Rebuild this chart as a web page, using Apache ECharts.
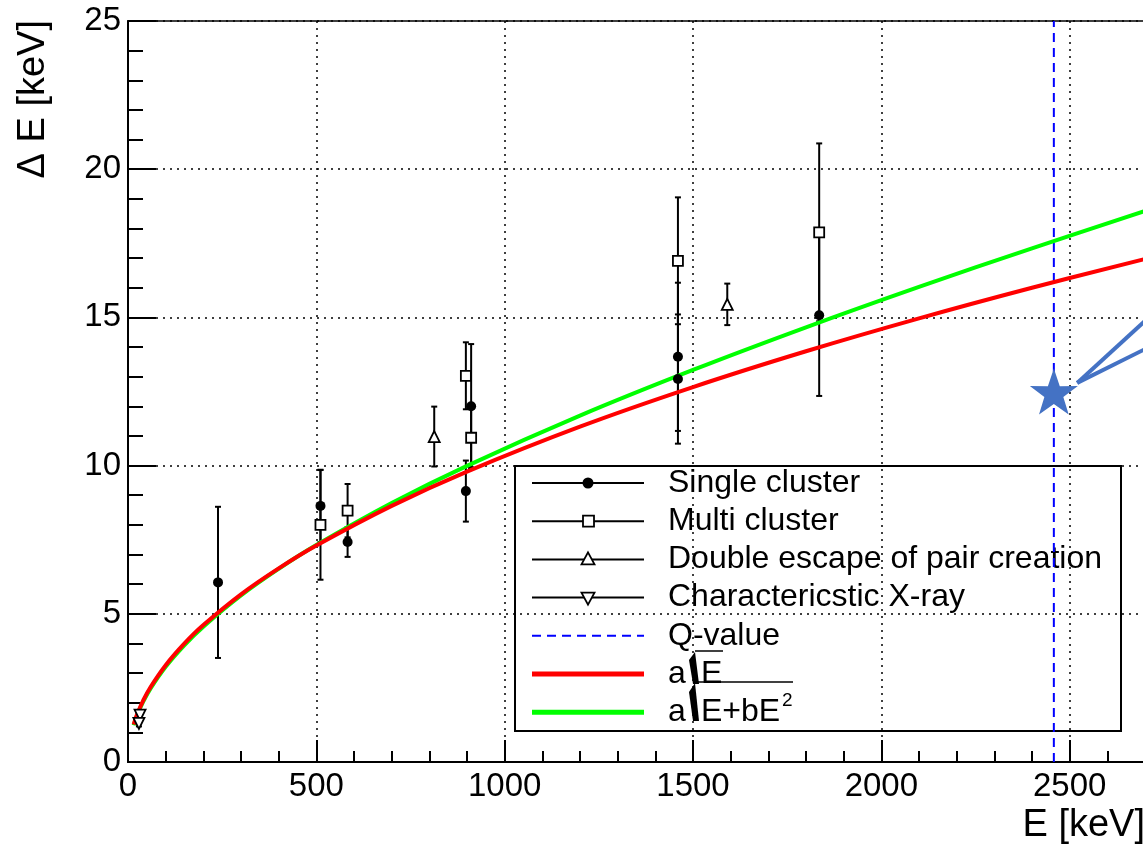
<!DOCTYPE html>
<html><head><meta charset="utf-8">
<script src="https://cdn.jsdelivr.net/npm/echarts@6/dist/echarts.min.js"></script>
<style>html,body{margin:0;padding:0;background:#fff;overflow:hidden}#c{width:1143px;height:845px}</style>
</head><body><div id="c"></div>
<script>
// [E (keV), dE (keV), error]
const singleCluster = [[239,6.06,2.55],[511,8.64,1.22],[583,7.42,0.5],[897,9.14,1.03],[911,12.0,2.1],[1460,13.67,2.5],[1460,12.92,2.18],[1835,15.07,2.72]];
const multiCluster = [[511,8.0,1.85],[583,8.48,0.9],[897,13.03,1.13],[911,10.94,1.0],[1460,16.91,2.14],[1835,17.87,3.0]];
const doubleEscape = [[813,10.98,1.01],[1591,15.44,0.7]];
const xray = [[32,1.58,0.1],[29,1.30,0.1]];
const fitE     = [15,25,40,60,100,150,200,300,400,500,700,900,1200,1500,1800,2100,2400,2700];
const fitSqrt  = [1.265,1.633,2.066,2.530,3.266,4.000,4.619,5.657,6.532,7.303,8.641,9.798,11.314,12.649,13.857,14.967,16.000,16.971];
const fitSqrt2 = [1.240,1.602,2.028,2.486,3.215,3.946,4.567,5.619,6.517,7.319,8.737,9.992,11.685,13.226,14.664,16.027,17.331,18.590];
const qValue = 2458;
const starPoint = [2458, 12.5];
const calloutStart = [2520, 12.79];
const calloutEnds = [[2700, 14.88], [2700, 13.93]];
const xTicks = [0,500,1000,1500,2000,2500];
const yTicks = [0,5,10,15,20,25];
const legendLabels = ['Single cluster','Multi cluster','Double escape of pair creation','Characteric' + 'stic X-ray','Q-value'];
const fitLabelA = ['a', 'E'];
const fitLabelB = ['a', 'E+bE', '2'];

const FONT = '"Liberation Sans", Arial, Helvetica, sans-serif';
const chart = echarts.init(document.getElementById('c'), null, {renderer:'canvas'});

function errSeries(data){
  return {
    type:'custom', z:3, clip:false,
    data: data.map(d=>[d[0],d[1],d[1]-d[2],d[1]+d[2]]),
    renderItem(params, api){
      const x = api.value(0);
      const p1 = api.coord([x, api.value(2)]);
      const p2 = api.coord([x, api.value(3)]);
      const st = {stroke:'#000', lineWidth:2};
      const c = 3;
      return {type:'group', children:[
        {type:'line', shape:{x1:p1[0],y1:p1[1],x2:p2[0],y2:p2[1]}, style:st},
        {type:'line', shape:{x1:p1[0]-c,y1:p1[1],x2:p1[0]+c,y2:p1[1]}, style:st},
        {type:'line', shape:{x1:p2[0]-c,y1:p2[1],x2:p2[0]+c,y2:p2[1]}, style:st}
      ]};
    }
  };
}
function markSeries(data, symbol, size, fill, rot){
  return {type:'scatter', z:5, symbol, symbolSize:size, symbolRotate:rot||0,
    data:data.map(d=>[d[0],d[1]]),
    itemStyle:{color:fill, borderColor:'#000', borderWidth:fill==='#000'?0:1.8, opacity:1}};
}
const starPath = 'path://M50,0 L61.8,35.1 L97.6,34.5 L68.8,56 L79.4,90.5 L50,70 L20.6,90.5 L31.2,56 L2.4,34.5 L38.2,35.1 Z';

// legend graphic
const LX = 515, LY = 466, LW = 606, LH = 265, rowH = 38.2, row0 = 483;
const lg = [{type:'rect', shape:{x:LX,y:LY,width:LW,height:LH}, style:{fill:'#fff', stroke:'#000', lineWidth:2}}];
const sym = ['circle','square','tri','tridown','q','red','green'];
const txt = (x,y,s,size)=>({type:'text', x, y, style:{text:s, font:size+'px '+FONT, fill:'#000', textVerticalAlign:'middle', textAlign:'left'}});
sym.forEach((s,i)=>{
  const y = row0 + i*rowH;
  if (s==='q') lg.push({type:'line', shape:{x1:532,y1:y,x2:644,y2:y}, style:{stroke:'#0000ff', lineWidth:2, lineDash:[9,6]}});
  else if (s==='red') lg.push({type:'line', shape:{x1:532,y1:y,x2:644,y2:y}, style:{stroke:'#ff0000', lineWidth:5}});
  else if (s==='green') lg.push({type:'line', shape:{x1:532,y1:y,x2:644,y2:y}, style:{stroke:'#00ff00', lineWidth:5}});
  else {
    lg.push({type:'line', shape:{x1:532,y1:y,x2:644,y2:y}, style:{stroke:'#000', lineWidth:2}});
    if (s==='circle') lg.push({type:'circle', shape:{cx:588,cy:y,r:5.5}, style:{fill:'#000'}});
    if (s==='square') lg.push({type:'rect', shape:{x:583,y:y-5.5,width:11,height:11}, style:{fill:'#fff',stroke:'#000',lineWidth:1.8}});
    if (s==='tri') lg.push({type:'polygon', shape:{points:[[588,y-7],[594.5,y+5],[581.5,y+5]]}, style:{fill:'#fff',stroke:'#000',lineWidth:1.8}});
    if (s==='tridown') lg.push({type:'polygon', shape:{points:[[588,y+7],[594.5,y-5],[581.5,y-5]]}, style:{fill:'#fff',stroke:'#000',lineWidth:1.8}});
  }
  if (i < legendLabels.length) lg.push(txt(668, y, legendLabels[i], 32));
});
// formula rows: a sqrt(E) and a sqrt(E + bE^2)
const yA = row0 + 5*rowH, yB = row0 + 6*rowH;
lg.push(txt(668, yA, fitLabelA[0], 32), txt(701, yA, fitLabelA[1], 32));
lg.push(txt(668, yB, fitLabelB[0], 32), txt(701, yB, fitLabelB[1], 32), txt(782, yB-11, fitLabelB[2], 19));
// radical signs (ROOT style, with its misplaced overline)
lg.push({type:'polygon', shape:{points:[[689,660],[695,652],[699,684],[693,684]]}, style:{fill:'#000'}});
lg.push({type:'line', shape:{x1:695,y1:651,x2:723,y2:651}, style:{stroke:'#000', lineWidth:1.5}});
lg.push({type:'polygon', shape:{points:[[689,692],[695,683],[699,721],[693,721]]}, style:{fill:'#000'}});
lg.push({type:'line', shape:{x1:695,y1:682,x2:793,y2:682}, style:{stroke:'#000', lineWidth:1.5}});

const option = {
  animation:false,
  backgroundColor:'#fff',
  grid:{left:128, top:21, width:1017, height:741, show:true, borderColor:'#000', borderWidth:1.5, containLabel:false, outerBoundsMode:'none'},
  xAxis:[{
    type:'value', min:0, max:2700, interval:500,
    axisLine:{show:true, onZero:false, lineStyle:{color:'#000', width:2}},
    axisTick:{show:true, inside:true, length:22, lineStyle:{color:'#000', width:2}},
    axisLabel:{color:'#000', fontSize:33, fontFamily:FONT, margin:8,
      formatter:v=> xTicks.includes(v)? String(v):''},
    splitLine:{show:true, lineStyle:{color:'#000', type:[2,5], width:1.5}}
  },{
    type:'value', min:0, max:2700, interval:100, position:'bottom',
    axisLine:{show:false}, axisLabel:{show:false}, splitLine:{show:false},
    axisTick:{show:true, inside:true, length:11, lineStyle:{color:'#000', width:2}}
  }],
  yAxis:{
    type:'value', min:0, max:25, interval:5,
    axisLine:{show:true, onZero:false, lineStyle:{color:'#000', width:2}},
    axisTick:{show:true, inside:true, length:28, lineStyle:{color:'#000', width:2}},
    minorTick:{show:true, splitNumber:5, length:15, lineStyle:{color:'#000', width:2}},
    axisLabel:{color:'#000', fontSize:33, fontFamily:FONT, margin:7,
      formatter:v=> yTicks.includes(v)? String(v):''},
    splitLine:{show:true, lineStyle:{color:'#000', type:[2,5], width:1.5}}
  },
  series:[
    {type:'line', z:2, data:[[qValue,0],[qValue,25]], symbol:'none', lineStyle:{color:'#0000ff', width:2, type:[9,6]}},
    {type:'line', z:4, data:fitE.map((e,i)=>[e,fitSqrt2[i]]), symbol:'none', smooth:0.4, lineStyle:{color:'#00ff00', width:4}},
    {type:'line', z:4, data:fitE.map((e,i)=>[e,fitSqrt[i]]), symbol:'none', smooth:0.4, lineStyle:{color:'#ff0000', width:4}},
    errSeries(singleCluster), errSeries(multiCluster), errSeries(doubleEscape), errSeries(xray),
    markSeries(singleCluster,'circle',10,'#000'),
    markSeries(multiCluster,'rect',10,'#fff'),
    markSeries(doubleEscape,'triangle',11,'#fff'),
    markSeries(xray,'triangle',11,'#fff',180),
    {type:'line', z:6, clip:false, symbol:'none', data:[calloutStart, calloutEnds[0]], lineStyle:{color:'#4472C4', width:4}},
    {type:'line', z:6, clip:false, symbol:'none', data:[calloutStart, calloutEnds[1]], lineStyle:{color:'#4472C4', width:4}},
    {type:'scatter', z:7, symbol:starPath, symbolSize:[48,46], data:[starPoint], itemStyle:{color:'#4472C4', opacity:1}}
  ],
  graphic:[
    {type:'group', z:100, children:lg},
    {type:'text', z:100, x:1145, y:826, style:{text:'E [keV]', font:'38px '+FONT, fill:'#000', textAlign:'right', textVerticalAlign:'middle'}},
    {type:'text', z:100, x:34, y:20, rotation:Math.PI/2, style:{text:'Δ E [keV]', font:'38px '+FONT, fill:'#000', textAlign:'right', textVerticalAlign:'middle'}}
  ]
};
chart.setOption(option);
</script></body></html>
